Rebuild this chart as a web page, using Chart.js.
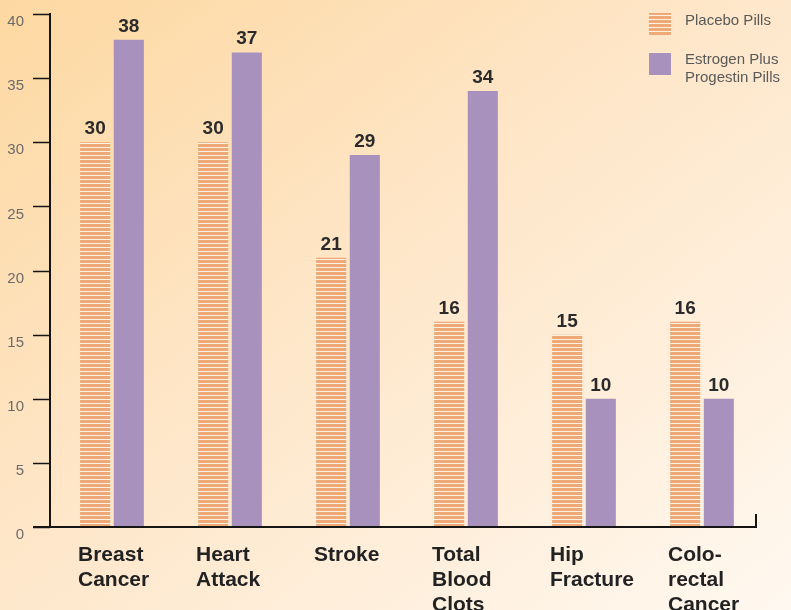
<!DOCTYPE html>
<html>
<head>
<meta charset="utf-8">
<script src="https://cdn.jsdelivr.net/npm/chart.js@4.4.1/dist/chart.umd.min.js"></script>
<style>
  html, body { margin: 0; padding: 0; }
  body {
    width: 791px;
    height: 610px;
    background: linear-gradient(to bottom right, #fdd8a1 0%, #fee6c8 45%, #fff8f0 100%);
  }
  #wrap { position: relative; width: 791px; height: 610px; }
</style>
</head>
<body>
<div id="wrap"><canvas id="riskChart" width="791" height="610"></canvas></div>
<script>
// chart data
const categories = [
  ['Breast', 'Cancer'],
  ['Heart', 'Attack'],
  ['Stroke'],
  ['Total', 'Blood', 'Clots'],
  ['Hip', 'Fracture'],
  ['Colo-', 'rectal', 'Cancer']
];
const placeboValues = [30, 30, 21, 16, 15, 16];
const estrogenValues = [38, 37, 29, 34, 10, 10];
const placeboLabel = ['Placebo Pills'];
const estrogenLabel = ['Estrogen Plus', 'Progestin Pills'];
const yMin = 0;
const yMax = 40;
const yStep = 5;

const orange = '#eea976';
const purple = '#a892bd';
const font = "'Liberation Sans', Arial, sans-serif";

// striped fill for the placebo bars
const makeStripes = () => {
  const c = document.createElement('canvas');
  c.width = 4;
  c.height = 4;
  const g = c.getContext('2d');
  g.fillStyle = '#fdf1e2';
  g.fillRect(0, 0, 4, 4);
  g.fillStyle = orange;
  g.fillRect(0, 0, 4, 3);
  return g.createPattern(c, 'repeat');
};

const ctx = document.getElementById('riskChart');
const stripes = makeStripes();

// axis lines and tick marks, drawn a few px left of the plot like the original
const axesPlugin = {
  id: 'axesPlugin',
  afterDatasetsDraw(chart) {
    const c = chart.ctx;
    const area = chart.chartArea;
    const y = chart.scales.y;
    const axisX = area.left - 3;
    const zeroY = y.getPixelForValue(0);
    c.save();
    c.strokeStyle = '#151515';
    c.lineWidth = 2;
    c.beginPath();
    c.moveTo(axisX, y.getPixelForValue(yMax) - 1);
    c.lineTo(axisX, zeroY);
    c.moveTo(area.left - 20, zeroY);
    c.lineTo(area.right - 5, zeroY);
    c.moveTo(area.right - 5, zeroY + 1);
    c.lineTo(area.right - 5, zeroY - 13);
    c.stroke();
    c.lineWidth = 1.5;
    c.beginPath();
    y.ticks.forEach((t) => {
      const py = Math.round(y.getPixelForValue(t.value)) + 0.5;
      c.moveTo(area.left - 20, py);
      c.lineTo(axisX, py);
    });
    c.stroke();
    c.restore();
  }
};

// numbers above the bars
const valuePlugin = {
  id: 'valuePlugin',
  afterDatasetsDraw(chart) {
    const c = chart.ctx;
    c.save();
    c.font = 'bold 19px ' + font;
    c.fillStyle = '#2b2b2b';
    c.textAlign = 'center';
    c.textBaseline = 'alphabetic';
    chart.data.datasets.forEach((ds, i) => {
      const meta = chart.getDatasetMeta(i);
      meta.data.forEach((bar, j) => {
        c.fillText(String(ds.data[j]), bar.x, bar.y - 8);
      });
    });
    c.restore();
  }
};

// legend in the top right corner
const legendPlugin = {
  id: 'legendPlugin',
  afterDraw(chart) {
    const c = chart.ctx;
    c.save();
    c.fillStyle = stripes;
    c.fillRect(649, 13, 22, 22);
    c.fillStyle = purple;
    c.fillRect(649, 53, 22, 22);
    c.font = '15px ' + font;
    c.fillStyle = '#595959';
    c.textAlign = 'left';
    c.textBaseline = 'alphabetic';
    placeboLabel.forEach((line, i) => c.fillText(line, 685, 25 + i * 18));
    estrogenLabel.forEach((line, i) => c.fillText(line, 685, 64 + i * 18));
    c.restore();
  }
};

new Chart(ctx, {
  type: 'bar',
  data: {
    labels: categories,
    datasets: [
      {
        label: placeboLabel.join(' '),
        data: placeboValues,
        backgroundColor: stripes,
        borderWidth: 0,
        categoryPercentage: 0.57,
        barPercentage: 0.895
      },
      {
        label: estrogenLabel.join(' '),
        data: estrogenValues,
        backgroundColor: purple,
        borderWidth: 0,
        categoryPercentage: 0.57,
        barPercentage: 0.895
      }
    ]
  },
  options: {
    responsive: false,
    animation: false,
    layout: { padding: { top: 14, right: 30, left: 0, bottom: 0 } },
    plugins: {
      legend: { display: false },
      tooltip: { enabled: false }
    },
    scales: {
      x: {
        grid: { display: false },
        border: { display: false },
        ticks: {
          autoSkip: false,
          maxRotation: 0,
          align: 'start',
          labelOffset: -34,
          padding: 8,
          color: '#222222',
          font: { family: font, size: 21, weight: 'bold', lineHeight: '25px' }
        },
        afterFit: (scale) => {
          scale.height = 83;
          scale.paddingLeft = 0;
          scale.paddingRight = 0;
        }
      },
      y: {
        min: yMin,
        max: yMax,
        grid: { display: false },
        border: { display: false },
        ticks: {
          stepSize: yStep,
          padding: 21,
          labelOffset: 8,
          color: '#6b6b6b',
          font: { family: font, size: 15 }
        },
        afterFit: (scale) => {
          scale.width = 53;
          scale.paddingTop = 0;
          scale.paddingBottom = 0;
        }
      }
    }
  },
  plugins: [axesPlugin, valuePlugin, legendPlugin]
});
</script>
</body>
</html>
